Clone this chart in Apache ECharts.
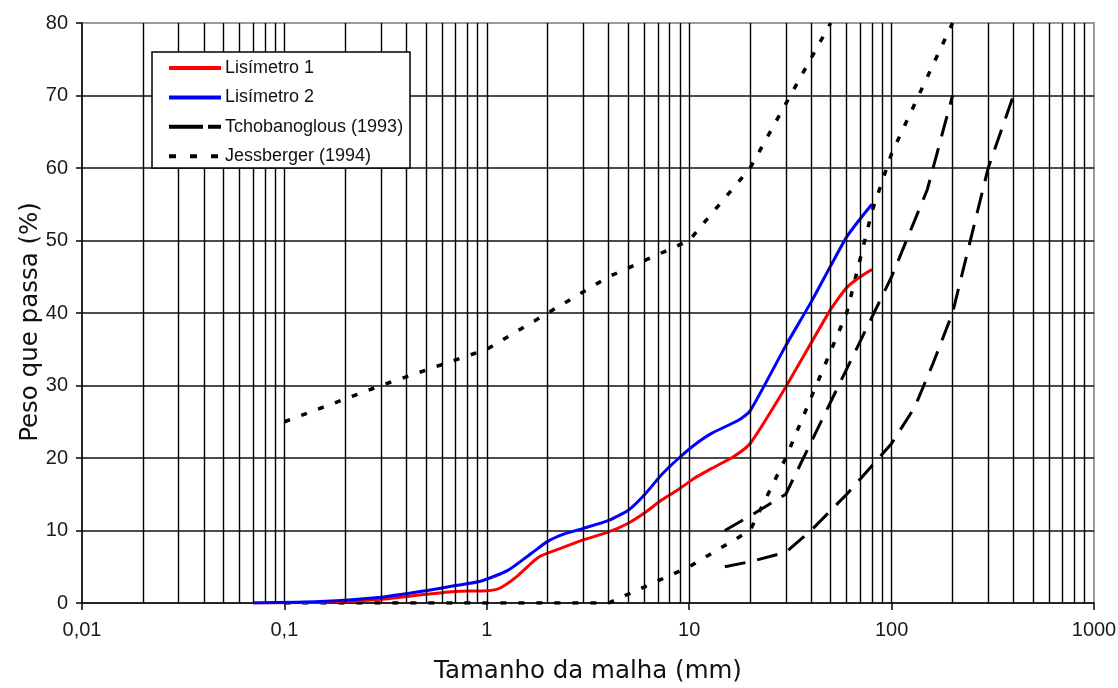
<!DOCTYPE html>
<html>
<head>
<meta charset="utf-8">
<script src="https://cdn.jsdelivr.net/npm/echarts@6/dist/echarts.min.js"></script>
<style>
  html, body { margin: 0; padding: 0; background: #fff; }
  #chart { width: 1118px; height: 688px; }
</style>
</head>
<body>
<div id="chart"></div>
<script>
// Granulometric curves: percentage passing vs. mesh size (log scale)

// Lisímetro 1
const lis1Size = [0.07, 0.15, 0.3, 0.5, 0.7, 1, 1.15, 1.4, 1.8, 2.3, 3, 4, 5, 6, 7.3, 9, 10.6, 13, 16.6, 20, 30, 50, 60, 70, 80];
const lis1Pass = [0, 0.1, 0.5, 1.2, 1.6, 1.7, 2.0, 3.6, 6.3, 7.5, 8.7, 9.8, 11, 12.4, 14.2, 15.8, 17.2, 18.6, 20.2, 22, 29.8, 40.5, 43.5, 45, 46];

// Lisímetro 2
const lis2Size = [0.07, 0.15, 0.3, 0.5, 0.7, 0.93, 1.27, 1.67, 2, 2.4, 3, 4, 5, 6, 7.3, 8.9, 10.6, 12.9, 17.5, 20, 30, 40, 50, 60, 70, 80];
const lis2Pass = [0, 0.2, 0.8, 1.7, 2.4, 3.0, 4.5, 6.9, 8.5, 9.5, 10.3, 11.4, 12.8, 14.9, 17.7, 20, 21.8, 23.4, 25.2, 26.5, 35.5, 41.5, 46.5, 50.5, 53, 55];

// Tchobanoglous (1993) envelope
const tchoAUpperSize = [15, 20, 30, 100, 150, 200];
const tchoAUpperPass = [10, 12, 15, 45, 57, 70];
const tchoBLowerSize = [15, 20, 30, 40, 60, 100, 130, 160, 200, 300, 400];
const tchoBLowerPass = [5, 5.7, 7, 10, 15, 22, 27, 33, 40, 60, 70];

// Jessberger (1994) envelope
const jessUpperSize = [0.1, 0.3, 1, 2, 4, 10, 20, 50];
const jessUpperPass = [25, 30, 35, 40, 45, 50, 60, 80];
const jessLowerSize = [0.1, 4, 10, 20, 30, 60, 80, 100, 200];
const jessLowerPass = [0, 0, 5, 10, 20, 40, 54, 62, 80];

// Axis ticks and titles
const xTickValues = [0.01, 0.1, 1, 10, 100, 1000];
const xTickLabels = ['0,01', '0,1', '1', '10', '100', '1000'];
const decadeStarts = [0.01, 0.1, 1, 10, 100];
const minorSteps = [2, 3, 4, 5, 6, 7, 8, 9];
const xTitle = 'Tamanho da malha (mm)';
const yTitle = 'Peso que passa (%)';

const seriesNames = ['Lisímetro 1', 'Lisímetro 2', 'Tchobanoglous (1993)', 'Jessberger (1994)'];

const pairs = (xs, ys) => xs.map((x, i) => [x, ys[i]]);

const minorLines = [];
decadeStarts.forEach(d => minorSteps.forEach(m => minorLines.push({ xAxis: +(d * m).toPrecision(6) })));

const FONT = "'Liberation Sans', Arial, sans-serif";
const TITLE_FONT = "'DejaVu Sans', Verdana, sans-serif";
const tchoDash = [21, 12];
const jessDash = [6, 12];

// Legend box drawn as graphic: sample line + label per entry
const legendStyles = [
  { stroke: '#ff0000', lineWidth: 4, lineDash: null },
  { stroke: '#0000ff', lineWidth: 4, lineDash: null },
  { stroke: '#000000', lineWidth: 4, lineDash: [34, 5] },
  { stroke: '#000000', lineWidth: 4, lineDash: [7, 14] }
];
const legendBox = { x: 152, y: 52, w: 258, h: 116 };
const legendRow0 = 68, legendRowStep = 29.4;
const graphics = [{
  type: 'rect', z: 50,
  shape: { x: legendBox.x, y: legendBox.y, width: legendBox.w, height: legendBox.h },
  style: { fill: '#ffffff', stroke: '#000000', lineWidth: 1.5 }
}];
seriesNames.forEach((name, i) => {
  const y = legendRow0 + i * legendRowStep;
  graphics.push({
    type: 'line', z: 51,
    shape: { x1: 169, y1: y, x2: 221, y2: y },
    style: Object.assign({ lineCap: 'butt' }, legendStyles[i])
  });
  graphics.push({
    type: 'text', z: 51,
    x: 225, y: y,
    style: { text: name, font: '18px ' + FONT, fill: '#111', verticalAlign: 'middle' }
  });
});
// Vertical axis title
graphics.push({
  type: 'text', z: 51,
  x: 31, y: 322, rotation: Math.PI / 2,
  style: { text: yTitle, font: '24.5px ' + TITLE_FONT, fill: '#111', align: 'center', verticalAlign: 'middle' }
});

const chart = echarts.init(document.getElementById('chart'), null, { renderer: 'canvas' });

chart.setOption({
  animation: false,
  backgroundColor: '#ffffff',
  grid: {
    left: 82, right: 24, top: 23, bottom: 85,
    outerBoundsMode: 'none',
    show: true, borderColor: '#9a9a9a', borderWidth: 2, backgroundColor: 'transparent'
  },
  graphic: graphics,
  xAxis: {
    type: 'log',
    logBase: 10,
    min: 0.01, max: 1000,
    name: xTitle,
    nameLocation: 'middle',
    nameGap: 56,
    nameTextStyle: { fontFamily: TITLE_FONT, fontSize: 24.5, color: '#111' },
    axisLine: { onZero: false, lineStyle: { color: '#000', width: 1.5 } },
    axisTick: { show: true, length: 7, lineStyle: { color: '#000', width: 1.5 } },
    axisLabel: {
      margin: 17,
      fontFamily: FONT, fontSize: 20, color: '#1a1a1a',
      formatter: v => {
        const i = xTickValues.findIndex(t => Math.abs(Math.log10(t) - Math.log10(v)) < 1e-6);
        return i >= 0 ? xTickLabels[i] : '';
      }
    },
    splitLine: { show: true, showMinLine: false, showMaxLine: false, lineStyle: { color: '#000', width: 1.4 } }
  },
  yAxis: {
    type: 'value',
    min: 0, max: 80, interval: 10,
    axisLine: { show: true, lineStyle: { color: '#000', width: 1.5 } },
    axisTick: { show: true, length: 6, lineStyle: { color: '#000', width: 1.5 } },
    axisLabel: { margin: 14, fontFamily: FONT, fontSize: 20, color: '#1a1a1a' },
    splitLine: { show: true, showMinLine: false, showMaxLine: false, lineStyle: { color: '#111', width: 1.6 } }
  },
  series: [
    {
      name: 'minor-grid', type: 'line', data: [], silent: true, z: 1,
      markLine: {
        silent: true, symbol: ['none', 'none'], label: { show: false },
        lineStyle: { color: '#000', width: 1.4, type: 'solid' },
        emphasis: { disabled: true },
        data: minorLines
      }
    },
    {
      name: seriesNames[3], type: 'line', data: pairs(jessUpperSize, jessUpperPass),
      showSymbol: false, symbol: 'none', z: 3,
      lineStyle: { color: '#000', width: 3.5, type: jessDash }
    },
    {
      name: seriesNames[3], type: 'line', data: pairs(jessLowerSize, jessLowerPass),
      showSymbol: false, symbol: 'none', z: 3,
      lineStyle: { color: '#000', width: 3.5, type: jessDash }
    },
    {
      name: seriesNames[2], type: 'line', data: pairs(tchoAUpperSize, tchoAUpperPass),
      showSymbol: false, symbol: 'none', z: 3,
      lineStyle: { color: '#000', width: 3, type: tchoDash }
    },
    {
      name: seriesNames[2], type: 'line', data: pairs(tchoBLowerSize, tchoBLowerPass),
      showSymbol: false, symbol: 'none', z: 3,
      lineStyle: { color: '#000', width: 3, type: tchoDash }
    },
    {
      name: seriesNames[0], type: 'line', data: pairs(lis1Size, lis1Pass),
      showSymbol: false, symbol: 'none', z: 4, smooth: 0.2,
      lineStyle: { color: '#ff0000', width: 3 }
    },
    {
      name: seriesNames[1], type: 'line', data: pairs(lis2Size, lis2Pass),
      showSymbol: false, symbol: 'none', z: 4, smooth: 0.2,
      lineStyle: { color: '#0000ff', width: 3 }
    }
  ]
});
</script>
</body>
</html>
